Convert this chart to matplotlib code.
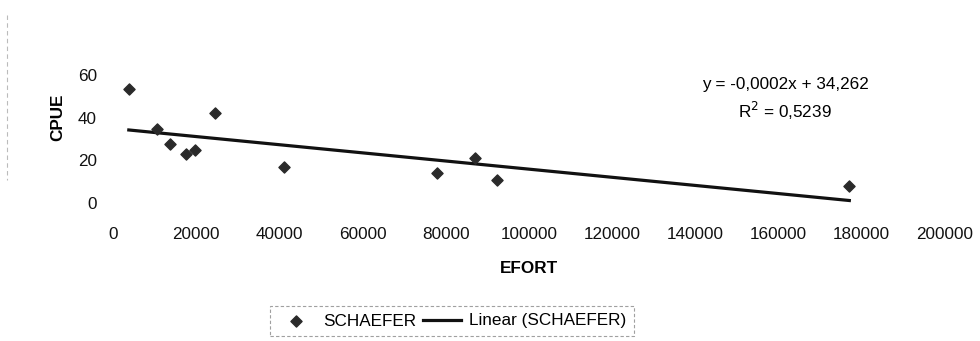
import numpy as np
import matplotlib
matplotlib.use("Agg")
import matplotlib.pyplot as plt
from matplotlib.lines import Line2D

plt.rcParams['font.family'] = ['Liberation Sans', 'DejaVu Sans']

effort = [3800, 10600, 13700, 17500, 19700, 24500, 41100, 77800, 87000, 92200, 177000]
cpue = [53.4, 34.7, 27.7, 23.0, 24.8, 42.2, 16.9, 14.2, 21.0, 10.8, 8.0]
xticks = [0, 20000, 40000, 60000, 80000, 100000, 120000, 140000, 160000, 180000, 200000]
yticks = [0, 20, 40, 60]

FS = 12.3

fig = plt.figure(figsize=(9.8, 3.41), dpi=100)
ax = fig.add_axes([113/980, 1-203/341, (945-113)/980, 128/341])

x = np.array(effort, dtype=float)
y = np.array(cpue, dtype=float)
m, b = np.polyfit(x, y, 1)
xl = np.array([x.min(), x.max()])
ax.plot(xl, m*xl + b, color='#111111', lw=2.3, label='Linear (SCHAEFER)', zorder=2)
ax.scatter(x, y, marker='D', s=32, color='#2a2a2a', label='SCHAEFER', zorder=3)

ax.set_xlim(0, 200000)
ax.set_ylim(0, 60)
ax.set_xticks(xticks)
ax.set_xticklabels([str(t) for t in xticks])
ax.set_yticks(yticks)
for s in ax.spines.values():
    s.set_visible(False)
ax.tick_params(length=0, labelsize=FS, colors='#111111')
ax.tick_params(axis='x', pad=17)
ax.tick_params(axis='y', pad=11.5)
ax.set_xlabel('EFORT', fontweight='bold', fontsize=FS)
ax.set_ylabel('CPUE', fontweight='bold', fontsize=FS)
ax.xaxis.set_label_coords(0.5, -0.453)
ax.yaxis.set_label_coords(-0.057, 0.672)

ax.text(0.808, 1-(85-75)/128, 'y = -0,0002x + 34,262', transform=ax.transAxes,
        ha='center', va='center', fontsize=FS)
ax.text(0.808, 1-(111-75)/128, 'R$^2$ = 0,5239', transform=ax.transAxes,
        ha='center', va='center', fontsize=FS)

h, l = ax.get_legend_handles_labels()
leg = fig.legend(h[::-1], l[::-1], loc='center', bbox_to_anchor=(452/980, 1-321/341), ncol=2,
                 frameon=True, fontsize=FS, handlelength=2.2, columnspacing=0.4,
                 handletextpad=0.5, fancybox=False, borderpad=0.45)
leg.get_frame().set_edgecolor('#888888')
leg.get_frame().set_linestyle((0, (3, 2)))
leg.get_frame().set_linewidth(0.8)

# faint scan border at the left edge
fig.add_artist(Line2D([7/980, 7/980], [1-15/341, 1-180/341], color='#bbbbbb',
                      lw=0.8, ls=(0, (4, 3)), transform=fig.transFigure))

fig.savefig('out.png', dpi=100)
